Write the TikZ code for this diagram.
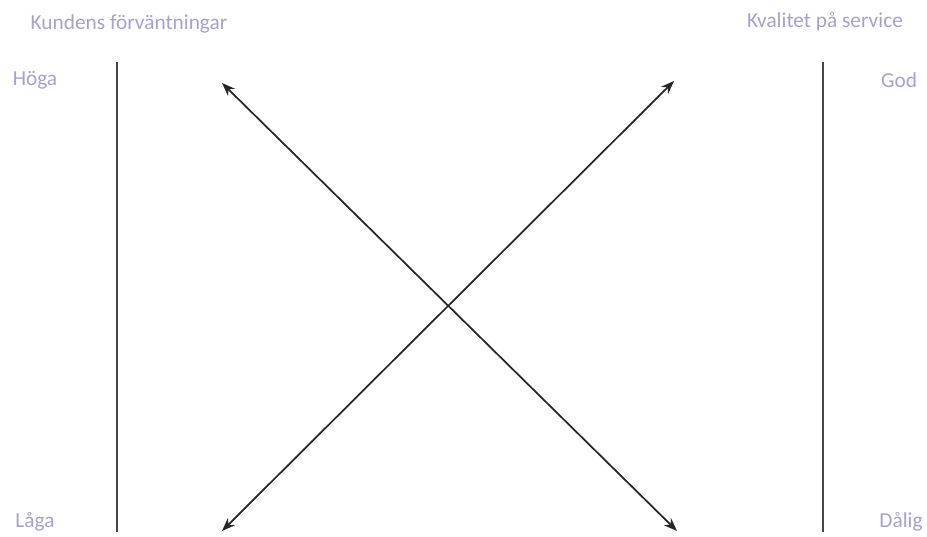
\documentclass[tikz,border=0pt]{standalone}
\usepackage{fontspec}
\setmainfont{Carlito}
\usepackage{tikz}
\usetikzlibrary{arrows.meta}
\definecolor{labeltext}{RGB}{168, 160, 205}
\definecolor{axisline}{RGB}{70, 70, 70}

\begin{document}
\begin{tikzpicture}[x=0.75pt, y=-0.75pt,
    lbl/.style={labeltext, font=\fontsize{16}{19}\selectfont, inner sep=0pt},
    axis/.style={axisline, line width=1.7pt},
    link/.style={black!85, line width=1.3pt, {Stealth[length=10pt,width=7.5pt]}-{Stealth[length=10pt,width=7.5pt]}}]
      \useasboundingbox (0,0) rectangle (927,536);
      % Headings
      \node[lbl] (kund) at (129,24) {Kundens förväntningar};
      \node[lbl] (kval) at (825,22) {Kvalitet på service};
      % Scale ends
      \foreach \x/\y/\name/\txt in {
        35/80/hoga/Höga,
        35/522/laga/Låga,
        899/80/god/God,
        901/522/dalig/Dålig%
      }{
        \node[lbl] (\name) at (\x,\y) {\txt};
      }
      % Vertical axes
      \coordinate (ltop) at (117,62);
      \coordinate (lbot) at (117,532);
      \coordinate (rtop) at (823,62);
      \coordinate (rbot) at (823,532);
      \draw[axis] (ltop) -- (lbot);
      \draw[axis] (rtop) -- (rbot);
      % Crossing arrows
      \coordinate (a1) at (222,83);
      \coordinate (a2) at (677,531);
      \coordinate (b1) at (674,81);
      \coordinate (b2) at (222,531);
      \draw[link] (a1) -- (a2);
      \draw[link] (b1) -- (b2);
\end{tikzpicture}
\end{document}
